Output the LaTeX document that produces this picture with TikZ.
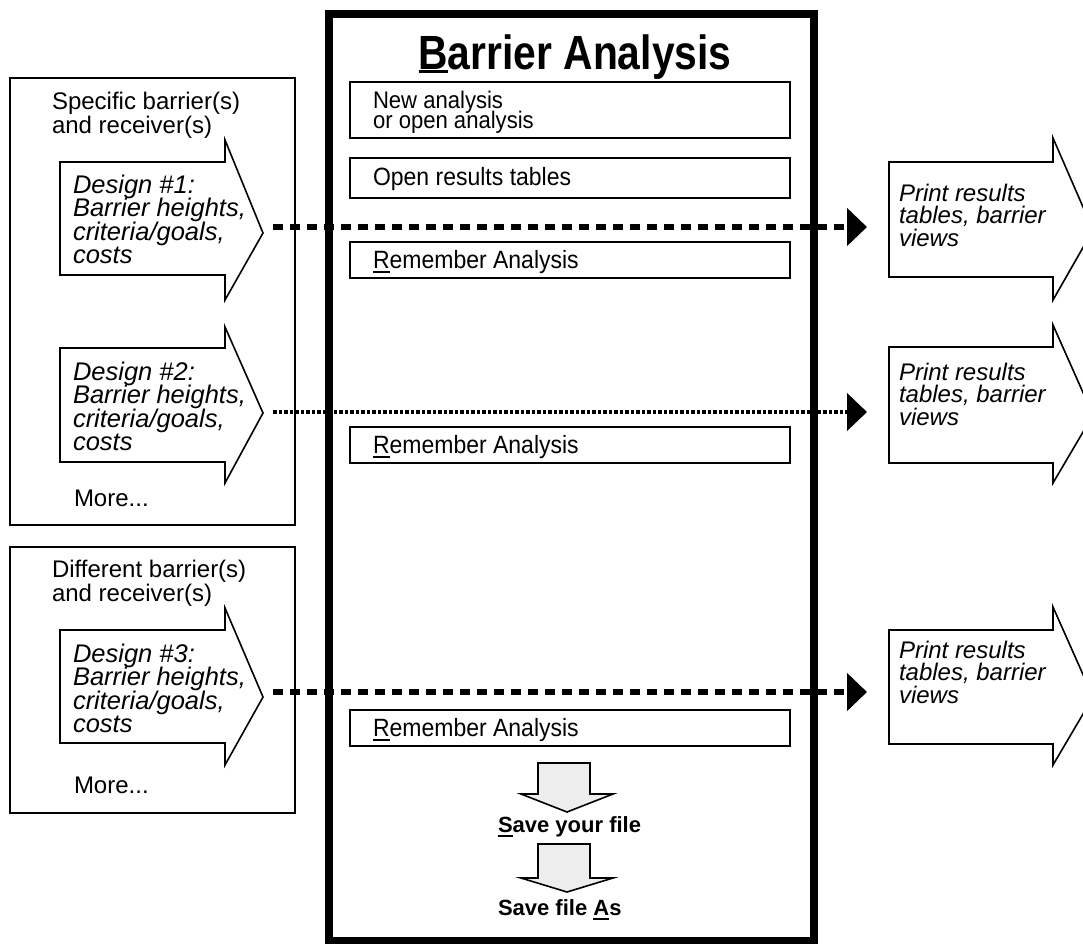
\documentclass[tikz,border=0pt]{standalone}
\usepackage{fontspec}
\setmainfont{Liberation Sans}
\newfontfamily\condfont[FakeStretch=0.92]{Liberation Sans}
\newfontfamily\titlefont[FakeStretch=0.85]{Liberation Sans}
\usetikzlibrary{arrows.meta}
\newcommand\ulx[3]{\setbox0\hbox{#3}\rlap{\rule[-#2]{\wd0}{#1}}\box0}
\newcommand\tightlines{\lineskiplimit=-50pt\relax}
\tikzset{
  lbl/.style={anchor=north west, align=left, inner sep=0pt, outer sep=0pt},
  dsgntext/.style={lbl, font=\fontsize{25.5}{23.5}\selectfont\itshape\tightlines},
  prnttext/.style={lbl, font=\fontsize{24}{22.5}\selectfont\itshape\tightlines},
  lefttext/.style={lbl, font=\fontsize{24}{24}\selectfont\tightlines},
  boxtext/.style={lbl, font=\condfont\fontsize{25}{25}\selectfont\tightlines},
  savetext/.style={lbl, font=\fontsize{22}{22}\selectfont\bfseries},
  leftframe/.style={draw, line width=1.6pt},
  mainframe/.style={draw, line width=8pt},
  stepbox/.style={draw, line width=2pt},
  blockarrow/.style={draw, line width=1.6pt, fill=white, line join=miter},
  downarrow/.style={draw, line width=1.6pt, fill=black!7, line join=miter},
  dashconn/.style={line width=6pt, dash pattern=on 10pt off 7pt,
    -{Triangle[length=20pt,width=37pt]}},
  dotconn/.style={line width=4.5pt, dash pattern=on 3.5pt off 2pt,
    -{Triangle[length=20pt,width=37pt]}},
}
\begin{document}
\begin{tikzpicture}[x=1pt,y=-1pt]
\useasboundingbox (0,0) rectangle (1083,943);
\clip (0,0) rectangle (1083,943);
\fill[white] (0,0) rectangle (1083,943);

% left group frames
\draw[leftframe] (10,78) rectangle (295,525);
\draw[leftframe] (10,547) rectangle (295,813);
\node[lefttext] (spec) at (52,92) {Specific barrier(s)\\and receiver(s)};
\node[lefttext] (more1) at (74,490) {More...};
\node[lefttext] (diff) at (52,560) {Different barrier(s)\\and receiver(s)};
\node[lefttext] (more2) at (74,777) {More...};

% left design arrows
\draw[blockarrow] (60,162) -- (225,162) -- (225,140) -- (263,233) -- (225,300) -- (225,275) -- (60,275) -- cycle;
\draw[blockarrow] (60,348) -- (225,348) -- (225,327) -- (263,413) -- (225,483) -- (225,462) -- (60,462) -- cycle;
\draw[blockarrow] (60,630) -- (225,630) -- (225,608) -- (263,697) -- (225,765) -- (225,743) -- (60,743) -- cycle;
\node[dsgntext] (d1) at (73,175) {Design \#1:\\Barrier heights,\\criteria/goals,\\costs};
\node[dsgntext] (d2) at (73,362) {Design \#2:\\Barrier heights,\\criteria/goals,\\costs};
\node[dsgntext] (d3) at (73,644) {Design \#3:\\Barrier heights,\\criteria/goals,\\costs};

% right print arrows
\draw[blockarrow] (889,162) -- (1053,162) -- (1053,138) -- (1093,230) -- (1053,300) -- (1053,277) -- (889,277) -- cycle;
\draw[blockarrow] (889,347) -- (1053,347) -- (1053,325) -- (1093,415) -- (1053,483) -- (1053,463) -- (889,463) -- cycle;
\draw[blockarrow] (889,630) -- (1053,630) -- (1053,607) -- (1093,697) -- (1053,765) -- (1053,744) -- (889,744) -- cycle;
\node[prnttext] (p1) at (899,184) {Print results\\tables, barrier\\views};
\node[prnttext] (p2) at (899,363) {Print results\\tables, barrier\\views};
\node[prnttext] (p3) at (899,641) {Print results\\tables, barrier\\views};

% main frame
\draw[mainframe] (329,14) rectangle (813.5,941);
\node[anchor=north, inner sep=0pt, font=\titlefont\bfseries\fontsize{48}{48}\selectfont] (title) at (575,35) {\ulx{3pt}{3pt}{B}arrier Analysis};

\draw[stepbox] (350,82) rectangle (790,138);
\node[boxtext, font=\condfont\fontsize{24}{20}\selectfont\tightlines] (newan) at (373,91) {New analysis\\or open analysis};
\draw[stepbox] (350,158) rectangle (790,198);
\node[boxtext] (openres) at (373,167) {Open results tables};
\draw[stepbox] (350,242) rectangle (790,278);
\node[boxtext] (rem1) at (373,250) {\ulx{1.8pt}{4.5pt}{R}emember Analysis};
\draw[stepbox] (350,427) rectangle (790,463);
\node[boxtext] (rem2) at (373,435) {\ulx{1.8pt}{4.5pt}{R}emember Analysis};
\draw[stepbox] (350,710) rectangle (790,746);
\node[boxtext] (rem3) at (373,718) {\ulx{1.8pt}{4.5pt}{R}emember Analysis};

% save arrows
\draw[downarrow] (538,763) -- (590,763) -- (590,794) -- (613,794) -- (567,812) -- (521,794) -- (538,794) -- cycle;
\node[savetext] (save) at (498,817) {\ulx{2pt}{4.5pt}{S}ave your file};
\draw[downarrow] (538,844) -- (590,844) -- (590,878) -- (613,878) -- (567,892) -- (521,878) -- (538,878) -- cycle;
\node[savetext] (saveas) at (498,900) {Save file \ulx{2pt}{4.5pt}{A}s};

% connectors
\coordinate (s1) at (273,227);
\coordinate (e1) at (867,227);
\coordinate (s2) at (273,412);
\coordinate (e2) at (867,412);
\coordinate (s3) at (273,692);
\coordinate (e3) at (867,692);
\draw[dashconn] (s1) -- (e1);
\draw[dotconn] (s2) -- (e2);
\draw[dashconn] (s3) -- (e3);
\end{tikzpicture}
\end{document}
